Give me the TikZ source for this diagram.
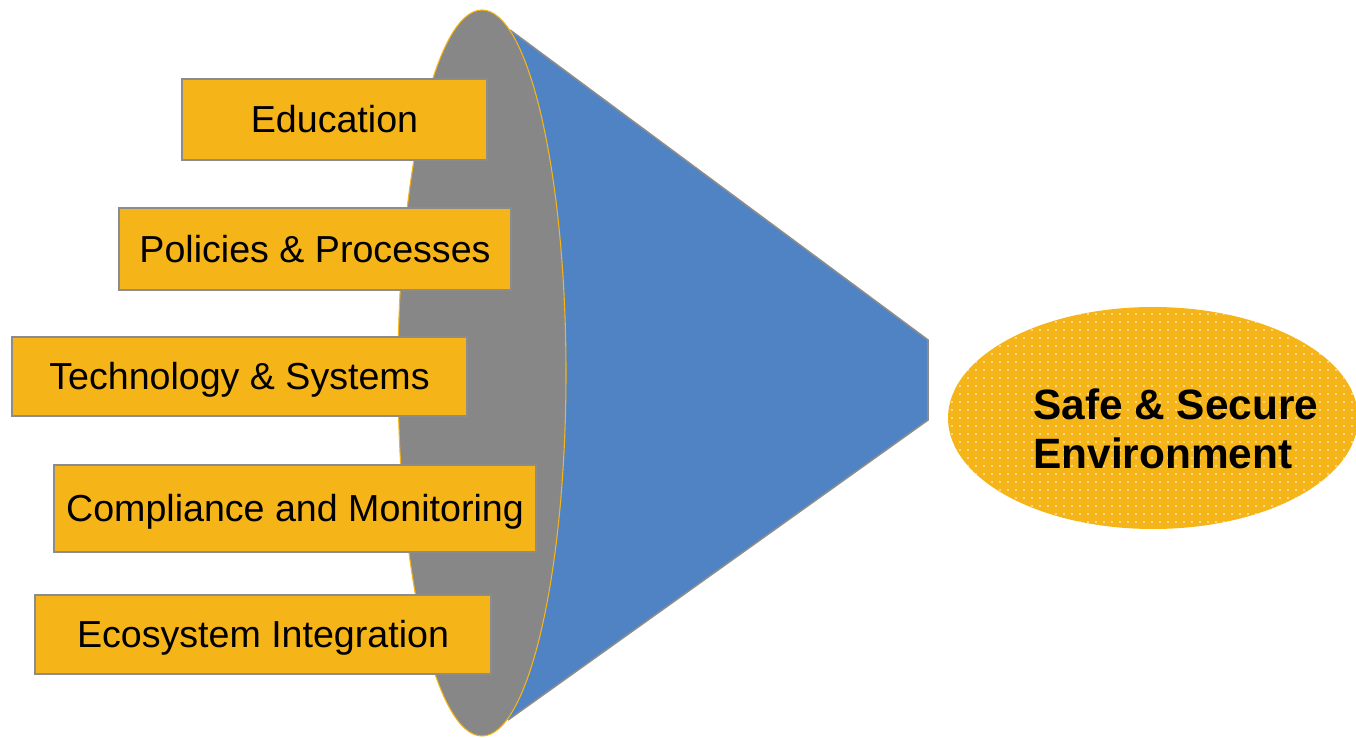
\documentclass[tikz,border=0pt]{standalone}
\usepackage{fontspec}
\setmainfont{Liberation Sans}
\usetikzlibrary{patterns.meta,shapes.geometric}
\definecolor{boxor}{HTML}{F5B417}
\definecolor{fungray}{HTML}{878787}
\definecolor{funblue}{HTML}{4F83C3}
\definecolor{edgegray}{HTML}{8C8C8C}
\tikzset{
  boxst/.style={draw=edgegray, line width=1pt, fill=boxor, inner sep=0pt, font=\fontsize{28.2}{33}\selectfont, text=black, text height=20.2pt, text depth=0pt},
}
\begin{document}
\begin{tikzpicture}[x=0.75pt,y=-0.75pt]
\useasboundingbox (0,0) rectangle (1356,738);
% cone
\coordinate (ut) at (510,30);
\coordinate (tipu) at (928,340);
\coordinate (tipl) at (928,420);
\coordinate (lt) at (508,720);
\coordinate (ec) at (482,373);
\fill[funblue] (ut) -- (tipu) -- (tipl) -- (lt) -- (ec) -- cycle;
\draw[edgegray, line width=1.2pt] (ut) -- (tipu) -- (tipl) -- (lt);
\node[ellipse, draw=boxor, line width=0.8pt, fill=fungray, minimum width=168*0.75pt, minimum height=726*0.75pt, inner sep=0pt] (mouth) at (ec) {};
% boxes
\node[boxst, minimum width=305*0.75pt, minimum height=81*0.75pt] (b1) at (334.5,119.5) {Education};
\node[boxst, minimum width=392*0.75pt, minimum height=82*0.75pt] (b2) at (315,249) {Policies \& Processes};
\node[boxst, minimum width=455*0.75pt, minimum height=79*0.75pt] (b3) at (239.5,376.5) {Technology \& Systems};
\node[boxst, minimum width=482*0.75pt, minimum height=87*0.75pt] (b4) at (295,508.5) {Compliance and Monitoring};
\node[boxst, minimum width=456*0.75pt, minimum height=79*0.75pt] (b5) at (263,634.5) {Ecosystem Integration};
% goal ellipse
\node[ellipse, fill=boxor, minimum width=410*0.75pt, minimum height=222*0.75pt, inner sep=0pt] (goal) at (1153,418) {};
\fill[pattern={Dots[distance=6pt, radius=0.7pt]}, pattern color=white] (goal.center) ellipse [x radius=205, y radius=111];
\node[anchor=west, align=left, font=\fontsize{31.8}{36.8}\selectfont\bfseries, inner sep=0pt] (gtext) at (1033,429) {Safe \& Secure\\Environment};
\end{tikzpicture}
\end{document}
